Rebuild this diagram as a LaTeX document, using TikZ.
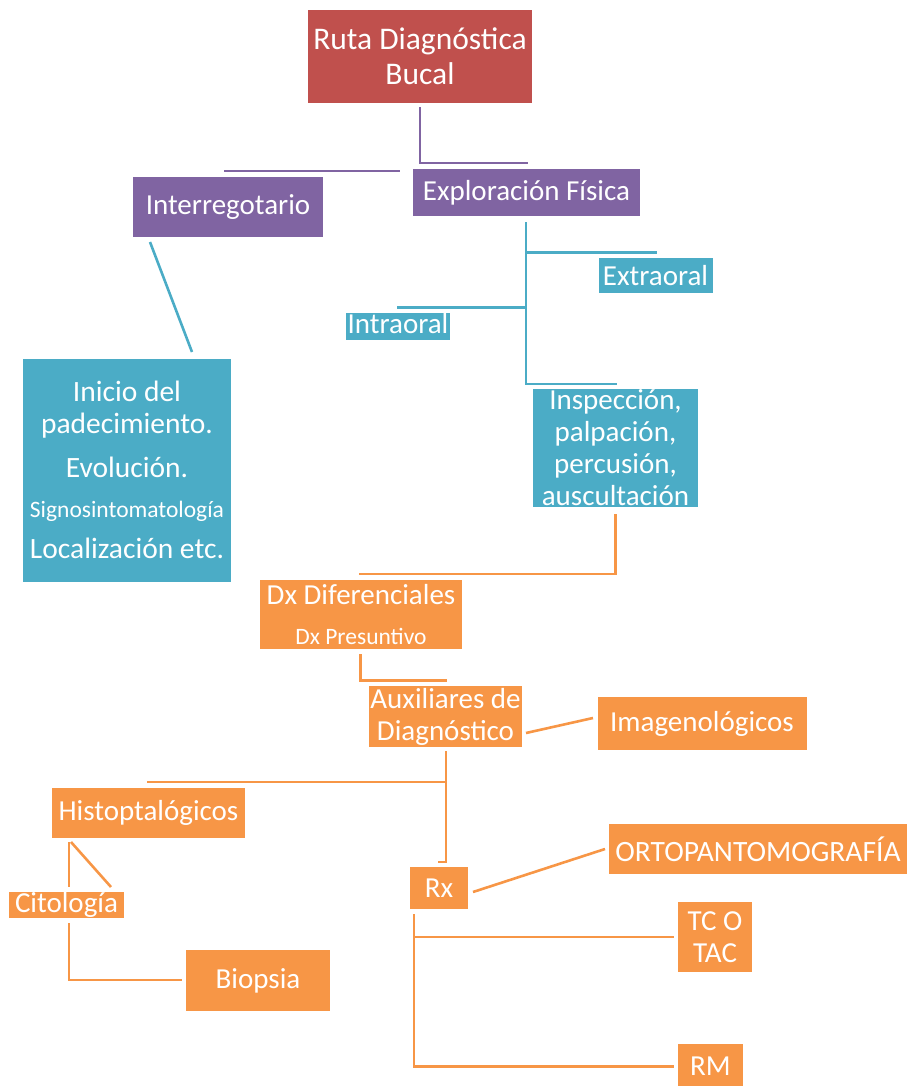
\documentclass[tikz,border=0pt]{standalone}
\usepackage{fontspec}
\setmainfont{Carlito}
\definecolor{cred}{HTML}{C0504D}
\definecolor{cpur}{HTML}{8064A2}
\definecolor{cteal}{HTML}{4BACC6}
\definecolor{corg}{HTML}{F79646}
\begin{document}
\begin{tikzpicture}[x=1pt,y=-1pt,
  box/.style={inner sep=0pt, align=center, text=white, font=\fontsize{29}{32}\selectfont},
  redbox/.style={box, fill=cred},
  purbox/.style={box, fill=cpur},
  tealbox/.style={box, fill=cteal},
  orgbox/.style={box, fill=corg},
  sz/.style 2 args={minimum width=#1, minimum height=#2},
  ln/.style={line width=2.6pt},
  purln/.style={ln, draw=cpur},
  tealln/.style={ln, draw=cteal},
  orgln/.style={ln, draw=corg}]
\useasboundingbox (0,0) rectangle (907,1086);

% nodes
\node[redbox, sz={224pt}{93pt}, font=\fontsize{31.5}{35}\selectfont] (ruta) at (420,56.5) {Ruta Diagnóstica\\Bucal};
\node[purbox, sz={190pt}{60pt}] (inter) at (228,207) {Interregotario};
\node[purbox, sz={227pt}{47pt}] (explo) at (526.5,192.5) {Exploración Física};
\node[tealbox, sz={114pt}{35pt}] (extra) at (655.5,275.5) {Extraoral};
\node[tealbox, sz={104pt}{27pt}, text height=20pt, text depth=6pt] (intra) at (398,326) {Intraoral};
\node[tealbox, sz={165pt}{118pt}] (insp) at (615.5,448) {Inspección,\\palpación,\\percusión,\\auscultación};
\node[tealbox, sz={208pt}{223pt}, font=\fontsize{29.5}{32}\selectfont] (inicio) at (127,470) {Inicio del\\padecimiento.\\[12pt]Evolución.\\[8pt]{\fontsize{23.5}{28}\selectfont Signosintomatología}\\[9pt]Localización etc.};
\node[orgbox, sz={202pt}{69pt}] (dx) at (361,614.5) {Dx Diferenciales\\[8pt]{\fontsize{23.5}{28}\selectfont Dx Presuntivo}};
\node[orgbox, sz={153pt}{61pt}] (aux) at (445.5,716.5) {Auxiliares de\\Diagnóstico};
\node[orgbox, sz={209pt}{53pt}] (imag) at (702,723.5) {Imagenológicos};
\node[orgbox, sz={193pt}{50pt}] (histo) at (148.5,812.5) {Histoptalógicos};
\node[orgbox, sz={115pt}{26pt}, text height=20pt, text depth=6pt] (cito) at (66.5,905) {Citología};
\node[orgbox, sz={144pt}{61pt}] (biopsia) at (258,980.5) {Biopsia};
\node[orgbox, sz={58pt}{42pt}] (rx) at (439,888) {Rx};
\node[orgbox, sz={298pt}{50pt}, font=\fontsize{29.5}{32}\selectfont] (orto) at (758,849) {ORTOPANTOMOGRAFÍA};
\node[orgbox, sz={74pt}{70pt}] (tc) at (715,937) {TC O\\TAC};
\node[orgbox, sz={65pt}{46pt}] (rm) at (710.5,1066.5) {RM};

% free ends
\coordinate (p1) at (528,163);
\coordinate (p2) at (224,171);
\coordinate (p3) at (400,171);
\coordinate (t1) at (150,242);
\coordinate (t2) at (192,352);
\coordinate (e1) at (526,384);
\coordinate (e2) at (617,384);
\coordinate (e3) at (657,252.5);
\coordinate (e4) at (397,307.5);
\coordinate (o1) at (359,574);
\coordinate (o2) at (447,680.5);
\coordinate (o3) at (526,733);
\coordinate (o4) at (593,718);
\coordinate (o5) at (446,862);
\coordinate (o6) at (438,862);
\coordinate (o7) at (147,782);
\coordinate (h1) at (69,842);
\coordinate (h2) at (69,887);
\coordinate (h3) at (71,842);
\coordinate (h4) at (111,887);
\coordinate (c1) at (69,923);
\coordinate (c2) at (182,980);
\coordinate (r1) at (473,892);
\coordinate (r2) at (605,849);
\coordinate (r3) at (414,914);
\coordinate (r4) at (674,937);
\coordinate (r5) at (674,1066.5);

% purple connectors
\draw[purln] ([yshift=-4pt]ruta.south) |- (p1);
\draw[purln] (p2) -- (p3);
% teal connectors
\draw[tealln] (t1) -- (t2);
\draw[tealln] ([yshift=-6pt]explo.south -| e1) -- (e1) -- (e2);
\draw[tealln] (e1 |- e3) -- (e3);
\draw[tealln] (e4) -- (e1 |- e4);
% orange connectors
\draw[orgln] ([yshift=-7pt]insp.south) |- (o1);
\draw[orgln] ([shift={(-0.5pt,-5pt)}]dx.south) |- (o2);
\draw[orgln] (o3) -- (o4);
\draw[orgln] ([yshift=-4pt]aux.south -| o5) -- (o5) -- (o6);
\draw[orgln] (o7) -- (o5 |- o7);
\draw[orgln] (h1) -- (h2);
\draw[orgln] (h3) -- (h4);
\draw[orgln] (c1) |- (c2);
\draw[orgln] (r1) -- (r2);
\draw[orgln] (r3) |- (r5);
\draw[orgln] (r3 |- r4) -- (r4);
\end{tikzpicture}
\end{document}
